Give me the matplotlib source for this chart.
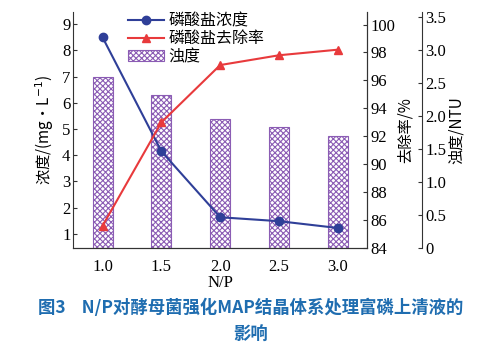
import numpy as np
import matplotlib
matplotlib.use('Agg')
from matplotlib import pyplot as plt
from matplotlib.patches import Patch

plt.rcParams['font.family'] = ['Liberation Serif', 'Noto Sans CJK SC']
plt.rcParams['hatch.color'] = '#8b5cb4'
plt.rcParams['hatch.linewidth'] = 0.8

# data
np_ratio = [1.0, 1.5, 2.0, 2.5, 3.0]
phosphate_conc = [8.5, 4.15, 1.63, 1.48, 1.22]      # mg/L
removal_rate = [85.6, 93.0, 97.1, 97.8, 98.2]        # %
turbidity = [2.59, 2.32, 1.95, 1.83, 1.70]           # NTU

blue = '#2f3f98'
red = '#e83a3c'
purple = '#8b5cb4'
cjk = ['Noto Sans CJK SC', 'DejaVu Sans']

fig = plt.figure(figsize=(5.01, 3.51), dpi=100)
ax = fig.add_axes([0.146, 0.293, 0.587, 0.673])
ax_rate = ax.twinx()
ax_ntu = ax.twinx()
ax_ntu.spines['right'].set_position(('axes', 1.187))

# bars first (behind lines)
ax_ntu.bar(np_ratio, turbidity, width=0.17, facecolor='white', edgecolor=purple,
           hatch='xxxxxx', linewidth=0.8, zorder=1)
ax_ntu.set_ylim(0, 3.58)
ax_ntu.set_yticks(np.arange(0, 3.51, 0.5))
ax_ntu.set_yticklabels(['0', '0.5', '1.0', '1.5', '2.0', '2.5', '3.0', '3.5'])

ax.set_zorder(ax_ntu.get_zorder() + 1)
ax_rate.set_zorder(ax.get_zorder() + 1)
ax.patch.set_visible(False)
ax_rate.patch.set_visible(False)

ax.plot(np_ratio, phosphate_conc, color=blue, marker='o', markersize=6, linewidth=1.5)
ax_rate.plot(np_ratio, removal_rate, color=red, marker='^', markersize=6, linewidth=1.5)

ax.set_xlim(0.75, 3.25)
ax.set_xticks(np_ratio)
ax.set_xticklabels(['1.0', '1.5', '2.0', '2.5', '3.0'])
ax.set_ylim(0.45, 9.47)
ax.set_yticks(range(1, 10))
ax_rate.set_ylim(84, 100.9)
ax_rate.set_yticks(range(84, 101, 2))

for a in (ax, ax_rate, ax_ntu):
    a.spines['top'].set_visible(False)
    a.tick_params(direction='in', labelsize=12, length=3, color='#333333', pad=2)
    for s in a.spines.values():
        s.set_color('#333333')
ax.tick_params(axis='x', length=0, pad=8)
ax_ntu.spines['left'].set_visible(False)
ax_ntu.spines['bottom'].set_visible(False)
ax_rate.spines['left'].set_visible(False)

ax.set_xlabel('N/P', fontsize=12, labelpad=0)
ax.set_ylabel('浓度/(mg·L$^{-1}$)', fontsize=11, family=['Noto Sans CJK SC', 'Liberation Serif'],
              labelpad=4)
ax_rate.set_ylabel('去除率/%', fontsize=11, family=cjk, labelpad=1)
ax_ntu.set_ylabel('浊度/NTU', fontsize=11, family=cjk, labelpad=1)

handles = [
    plt.Line2D([], [], color=blue, marker='o', markersize=6, linewidth=1.5),
    plt.Line2D([], [], color=red, marker='^', markersize=6, linewidth=1.5),
    Patch(facecolor='white', edgecolor=purple, hatch='xxxxxx', linewidth=0.8),
]
leg = ax_rate.legend(handles, ['磷酸盐浓度', '磷酸盐去除率', '浊度'], loc='upper left',
                     bbox_to_anchor=(0.15, 1.045), frameon=False, prop={'family': cjk, 'size': 11.5},
                     handlelength=2.2, handletextpad=0.3, labelspacing=0.05, borderpad=0.2)

fig.text(0.5, 0.122, '图3    N/P对酵母菌强化MAP结晶体系处理富磷上清液的', ha='center', va='center',
         fontsize=12.5, fontweight='bold', color='#1f6db0', family=cjk)
fig.text(0.5, 0.045, '影响', ha='center', va='center',
         fontsize=12.5, fontweight='bold', color='#1f6db0', family=cjk)

fig.savefig('out.png', dpi=100)
